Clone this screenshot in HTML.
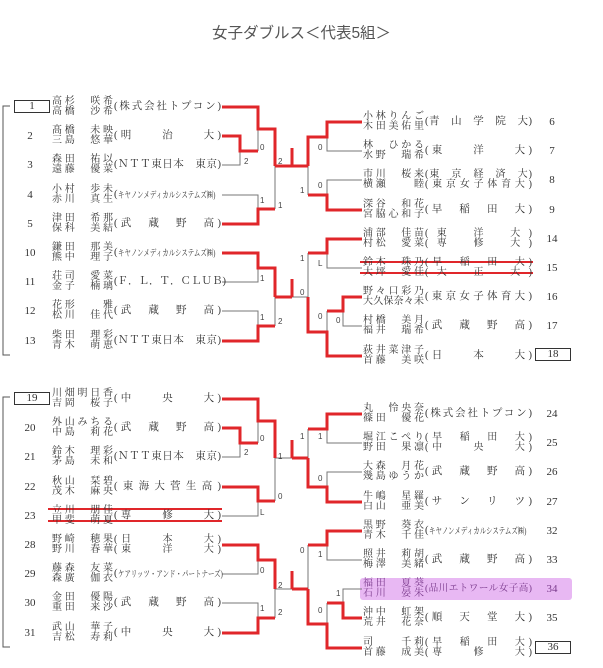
<!DOCTYPE html>
<html><head><meta charset="utf-8">
<style>
html,body{margin:0;padding:0;background:#fff;}
body{width:603px;height:668px;position:relative;overflow:hidden;font-family:"Liberation Serif","Noto Serif CJK JP","Noto Serif CJK SC",serif;color:#333;}
.t{position:absolute;left:0;width:603px;top:21px;text-align:center;font-family:"Liberation Sans","Noto Sans CJK JP",sans-serif;font-size:15.5px;color:#555;}
.n{position:absolute;width:61px;font-size:10px;line-height:10px;}
.n div,.a div{text-align:justify;text-align-last:justify;white-space:nowrap;}
.a{position:absolute;width:107px;font-size:10.5px;line-height:10px;white-space:nowrap;}
.a2 div{font-size:10px;}
.num{position:absolute;width:34px;text-align:center;font-size:11px;line-height:12px;}
.box{border:1px solid #333;height:11px;line-height:11px;}
.sm{font-size:9px;display:inline-block;transform:scaleX(.72);transform-origin:0 50%;white-space:nowrap;vertical-align:top;}
svg{position:absolute;left:0;top:0;}
.hl{position:absolute;left:360px;top:578px;width:212px;height:22px;background:#e8b8f3;border-radius:3px;}
</style></head><body>
<div class="t">女子ダブルス＜代表5組＞</div>
<div class="hl"></div>

<svg width="603" height="668" viewBox="0 0 603 668">
<g fill="none" stroke-linejoin="miter">
<g stroke="#555" stroke-width="1">
<path d="M10,106H3V355H10"/><path d="M10,397H3V647H10"/>
</g>
<g id="top">
<g stroke="#777" stroke-width="1">
<path d="M222,165H240V151"/><path d="M258,129V151"/><path d="M222,195H258V209"/><path d="M275,166V209"/>
<path d="M362,151H327V137"/><path d="M362,180H327V195"/><path d="M308,166V195"/>
<path d="M222,282H258V268"/><path d="M222,311H258V326"/><path d="M275,297V326"/><path d="M292,297H308"/>
<path d="M362,268H327V253"/><path d="M362,326H343V311"/><path d="M327,311V332"/><path d="M308,253V297"/>
</g>
<g stroke="#e0262a" stroke-width="3">
<path d="M222,107H258V129H275V166"/><path d="M222,136H240V151H258"/><path d="M222,224H258V209H275"/>
<path d="M275,166H308"/><path d="M292,148V166"/>
<path d="M362,122H327V137H308V166"/><path d="M362,210H327V195H308"/>
<path d="M222,253H258V268H275V297"/><path d="M222,341H258V326H275"/><path d="M275,297H292"/><path d="M292,279V297"/>
<path d="M362,239H327V253H308"/><path d="M362,297H343V311H327"/><path d="M362,356H327V332H308V297"/>
</g>
</g>
<g transform="translate(0,292)">
<g stroke="#777" stroke-width="1">
<path d="M222,165H240V151"/><path d="M258,129V151"/><path d="M222,224H258V209"/><path d="M275,166V209"/><path d="M275,166H292"/>
<path d="M362,151H327V137"/><path d="M362,180H327V195"/><path d="M308,137V166"/>
<path d="M222,282H258V268"/><path d="M222,311H258V326"/><path d="M275,297V326"/><path d="M275,297H292"/>
<path d="M362,268H327V253"/><path d="M362,297H343V311"/><path d="M327,311V332"/><path d="M308,253V297"/>
</g>
<g stroke="#e0262a" stroke-width="3">
<path d="M222,107H258V129H275V166"/><path d="M222,136H240V151H258"/><path d="M222,195H258V209H275"/>
<path d="M292,166H308"/><path d="M292,148V166"/>
<path d="M362,122H327V137H308"/><path d="M362,210H327V195H308V166"/>
<path d="M222,253H258V268H275V297"/><path d="M222,341H258V326H275"/><path d="M292,297H308"/><path d="M292,279V297"/>
<path d="M362,239H327V253H308"/><path d="M362,326H343V311H327"/><path d="M362,356H327V332H308V297"/>
</g>
</g>
<g stroke="#e0262a" stroke-width="2">
<path d="M360,262H533"/><path d="M360,273H533"/>
<path d="M48,509H222"/><path d="M48,521H222"/>
</g>
</g>
<g font-family="Liberation Sans, sans-serif" font-size="8" fill="#444">
<text x="260" y="150">0</text><text x="244" y="164">2</text><text x="278" y="164">2</text>
<text x="260" y="203">1</text><text x="278" y="208">1</text>
<text x="260" y="281">1</text><text x="260" y="320">1</text><text x="278" y="324">2</text>
<text x="318" y="150">0</text><text x="318" y="188">0</text><text x="300" y="193">1</text>
<text x="300" y="261">1</text><text x="318" y="266">L</text><text x="300" y="295">0</text>
<text x="318" y="319">0</text><text x="336" y="323">0</text>
<text x="260" y="441">0</text><text x="244" y="455">2</text><text x="278" y="459">1</text>
<text x="278" y="499">0</text><text x="260" y="515">L</text>
<text x="260" y="573">0</text><text x="278" y="588">2</text><text x="260" y="611">1</text><text x="278" y="615">2</text>
<text x="300" y="439">1</text><text x="318" y="439">1</text><text x="318" y="481">0</text>
<text x="300" y="553">0</text><text x="318" y="557">1</text><text x="336" y="596">1</text><text x="318" y="613">0</text>
</g>
</svg>

<!-- LEFT TOP -->
<div class="num box" style="left:14px;top:100px">1</div>
<div class="n" style="left:52px;top:97px"><div>高杉　咲希</div><div>高橋　沙希</div></div>
<div class="a" style="left:114px;top:102px"><div>(株式会社トプコン)</div></div>
<div class="num" style="left:13px;top:130px">2</div>
<div class="n" style="left:52px;top:126px"><div>髙橋　未映</div><div>三島　悠華</div></div>
<div class="a" style="left:114px;top:131px"><div>(明　　治　　大)</div></div>
<div class="num" style="left:13px;top:159px">3</div>
<div class="n" style="left:52px;top:155px"><div>森田　祐以</div><div>遠藤　優菜</div></div>
<div class="a" style="left:114px;top:160px"><div>(ＮＴＴ東日本　東京)</div></div>
<div class="num" style="left:13px;top:189px">4</div>
<div class="n" style="left:52px;top:185px"><div>小村　歩未</div><div>赤川　真生</div></div>
<div class="a" style="left:114px;top:190px"><span>(</span><span class="sm">キヤノンメディカルシステムズ㈱)</span></div>
<div class="num" style="left:13px;top:218px">5</div>
<div class="n" style="left:52px;top:214px"><div>津田　希那</div><div>保科　美結</div></div>
<div class="a" style="left:114px;top:219px"><div>(武　蔵　野　高)</div></div>
<div class="num" style="left:13px;top:247px">10</div>
<div class="n" style="left:52px;top:243px"><div>鎌田　那美</div><div>熊中　理子</div></div>
<div class="a" style="left:114px;top:248px"><span>(</span><span class="sm">キヤノンメディカルシステムズ㈱)</span></div>
<div class="num" style="left:13px;top:276px">11</div>
<div class="n" style="left:52px;top:272px"><div>荘司　愛菜</div><div>金子　楠璃</div></div>
<div class="a" style="left:114px;top:277px"><div>(Ｆ．Ｌ．Ｔ．ＣＬＵＢ)</div></div>
<div class="num" style="left:13px;top:305px">12</div>
<div class="n" style="left:52px;top:301px"><div>花形　　雅</div><div>松川　佳代</div></div>
<div class="a" style="left:114px;top:306px"><div>(武　蔵　野　高)</div></div>
<div class="num" style="left:13px;top:335px">13</div>
<div class="n" style="left:52px;top:331px"><div>柴田　理彩</div><div>青木　萌恵</div></div>
<div class="a" style="left:114px;top:336px"><div>(ＮＴＴ東日本　東京)</div></div>

<!-- RIGHT TOP -->
<div class="n" style="left:363px;top:112px"><div>小林りんご</div><div>木田美佑里</div></div>
<div class="a" style="left:425px;top:117px"><div>(青　山　学　院　大)</div></div>
<div class="num" style="left:535px;top:116px">6</div>
<div class="n" style="left:363px;top:141px"><div>林　ひかる</div><div>水野　瑞希</div></div>
<div class="a" style="left:425px;top:146px"><div>(東　　洋　　大)</div></div>
<div class="num" style="left:535px;top:145px">7</div>
<div class="n" style="left:363px;top:170px"><div>市川　桜来</div><div>横瀬　　睦</div></div>
<div class="a a2" style="left:425px;top:170px"><div>(東　京　経　済　大)</div><div>(東京女子体育大)</div></div>
<div class="num" style="left:535px;top:174px">8</div>
<div class="n" style="left:363px;top:200px"><div>深谷　和花</div><div>宮脇心和子</div></div>
<div class="a" style="left:425px;top:205px"><div>(早　稲　田　大)</div></div>
<div class="num" style="left:535px;top:204px">9</div>
<div class="n" style="left:363px;top:229px"><div>浦部　佳苗</div><div>村松　愛菜</div></div>
<div class="a a2" style="left:425px;top:229px"><div>(東　洋　大)</div><div>(専　修　大)</div></div>
<div class="num" style="left:535px;top:233px">14</div>
<div class="n" style="left:363px;top:258px"><div>鈴木　珠乃</div><div>大坪　愛佳</div></div>
<div class="a a2" style="left:425px;top:258px"><div>(早　稲　田　大)</div><div>(大　正　大)</div></div>
<div class="num" style="left:535px;top:262px">15</div>
<div class="n" style="left:363px;top:287px"><div>野々口彩乃</div><div>大久保奈々未</div></div>
<div class="a" style="left:425px;top:292px"><div>(東京女子体育大)</div></div>
<div class="num" style="left:535px;top:291px">16</div>
<div class="n" style="left:363px;top:316px"><div>村橋　美月</div><div>福井　瑞希</div></div>
<div class="a" style="left:425px;top:321px"><div>(武　蔵　野　高)</div></div>
<div class="num" style="left:535px;top:320px">17</div>
<div class="n" style="left:363px;top:346px"><div>荻井菜津子</div><div>首藤　美咲</div></div>
<div class="a" style="left:425px;top:351px"><div>(日　　本　　大)</div></div>
<div class="num box" style="left:535px;top:348px">18</div>

<!-- LEFT BOTTOM -->
<div class="num box" style="left:14px;top:392px">19</div>
<div class="n" style="left:52px;top:389px"><div>川畑明日香</div><div>吉岡　桜子</div></div>
<div class="a" style="left:114px;top:394px"><div>(中　　央　　大)</div></div>
<div class="num" style="left:13px;top:422px">20</div>
<div class="n" style="left:52px;top:418px"><div>外山みちる</div><div>中島　莉花</div></div>
<div class="a" style="left:114px;top:423px"><div>(武　蔵　野　高)</div></div>
<div class="num" style="left:13px;top:451px">21</div>
<div class="n" style="left:52px;top:447px"><div>鈴木　理彩</div><div>茅島　未和</div></div>
<div class="a" style="left:114px;top:452px"><div>(ＮＴＴ東日本　東京)</div></div>
<div class="num" style="left:13px;top:481px">22</div>
<div class="n" style="left:52px;top:477px"><div>秋山　栞碧</div><div>茂木　麻央</div></div>
<div class="a" style="left:114px;top:482px"><div>(東海大菅生高)</div></div>
<div class="num" style="left:13px;top:510px">23</div>
<div class="n" style="left:52px;top:506px"><div>立川　朋佳</div><div>甲斐　萌夏</div></div>
<div class="a" style="left:114px;top:511px"><div>(専　　修　　大)</div></div>
<div class="num" style="left:13px;top:539px">28</div>
<div class="n" style="left:52px;top:535px"><div>野崎　穂果</div><div>野川　春華</div></div>
<div class="a a2" style="left:114px;top:535px"><div>(日　　本　　大)</div><div>(東　　洋　　大)</div></div>
<div class="num" style="left:13px;top:568px">29</div>
<div class="n" style="left:52px;top:564px"><div>藤森　友菜</div><div>森廣　伽衣</div></div>
<div class="a" style="left:114px;top:569px"><span>(</span><span class="sm">ケアリッツ・アンド・パートナーズ)</span></div>
<div class="num" style="left:13px;top:597px">30</div>
<div class="n" style="left:52px;top:593px"><div>金田　優陽</div><div>重田　来沙</div></div>
<div class="a" style="left:114px;top:598px"><div>(武　蔵　野　高)</div></div>
<div class="num" style="left:13px;top:627px">31</div>
<div class="n" style="left:52px;top:623px"><div>武山　華子</div><div>吉松　寿莉</div></div>
<div class="a" style="left:114px;top:628px"><div>(中　　央　　大)</div></div>

<!-- RIGHT BOTTOM -->
<div class="n" style="left:363px;top:404px"><div>丸　怜央奈</div><div>篠田　優花</div></div>
<div class="a" style="left:425px;top:409px"><div>(株式会社トプコン)</div></div>
<div class="num" style="left:535px;top:408px">24</div>
<div class="n" style="left:363px;top:433px"><div>堀江こぺり</div><div>野田　果凛</div></div>
<div class="a a2" style="left:425px;top:433px"><div>(早　稲　田　大)</div><div>(中　　央　　大)</div></div>
<div class="num" style="left:535px;top:437px">25</div>
<div class="n" style="left:363px;top:462px"><div>大森　月花</div><div>幾島ゆうか</div></div>
<div class="a" style="left:425px;top:467px"><div>(武　蔵　野　高)</div></div>
<div class="num" style="left:535px;top:466px">26</div>
<div class="n" style="left:363px;top:492px"><div>牛嶋　星羅</div><div>白山　亜美</div></div>
<div class="a" style="left:425px;top:497px"><div>(サ　ン　リ　ツ)</div></div>
<div class="num" style="left:535px;top:496px">27</div>
<div class="n" style="left:363px;top:521px"><div>黒野　葵衣</div><div>青木　千佳</div></div>
<div class="a" style="left:425px;top:526px"><span>(</span><span class="sm">キヤノンメディカルシステムズ㈱)</span></div>
<div class="num" style="left:535px;top:525px">32</div>
<div class="n" style="left:363px;top:550px"><div>照井　莉胡</div><div>梅澤　美緒</div></div>
<div class="a" style="left:425px;top:555px"><div>(武　蔵　野　高)</div></div>
<div class="num" style="left:535px;top:554px">33</div>
<div class="n" style="left:363px;top:579px;color:#7a3a8c"><div>福田　夏葵</div><div>石川　晏朱</div></div>
<div class="a" style="left:425px;top:584px;color:#7a3a8c;font-size:9.6px"><div>(品川エトワール女子高)</div></div>
<div class="num" style="left:535px;top:583px;color:#7a3a8c">34</div>
<div class="n" style="left:363px;top:608px"><div>沖中　虹架</div><div>荒井　花奈</div></div>
<div class="a" style="left:425px;top:613px"><div>(順　天　堂　大)</div></div>
<div class="num" style="left:535px;top:612px">35</div>
<div class="n" style="left:363px;top:638px"><div>司　　千莉</div><div>首藤　成美</div></div>
<div class="a a2" style="left:425px;top:638px"><div>(早　稲　田　大)</div><div>(専　　修　　大)</div></div>
<div class="num box" style="left:535px;top:641px">36</div>
</body></html>
